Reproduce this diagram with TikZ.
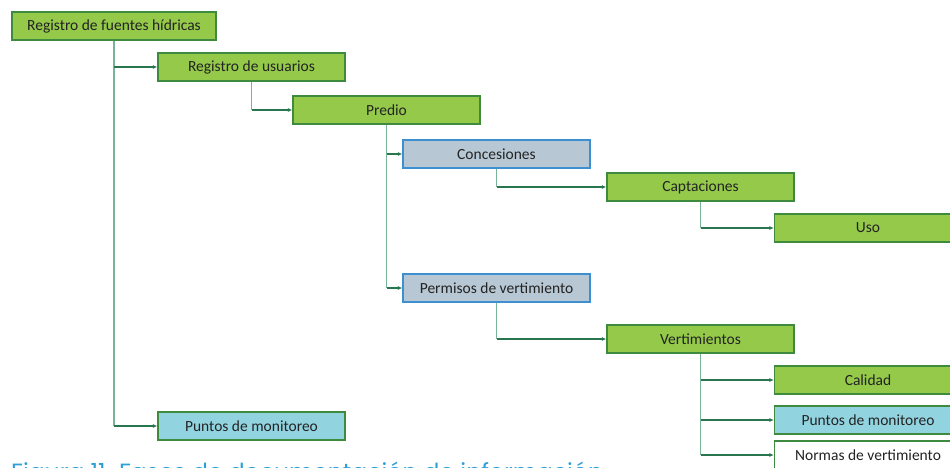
\documentclass[tikz,border=0pt]{standalone}
\usepackage{fontspec}
\setmainfont{Carlito}
\newfontfamily\capfont{Poppins}
\usetikzlibrary{arrows.meta}
\definecolor{hojaverde}{RGB}{148,201,74}
\definecolor{bordeverde}{RGB}{62,138,62}
\definecolor{grisazul}{RGB}{183,199,211}
\definecolor{bordeazul}{RGB}{60,143,209}
\definecolor{celeste}{RGB}{146,211,224}
\definecolor{lineaoscura}{RGB}{40,118,78}
\definecolor{linearama}{RGB}{120,180,150}
\definecolor{azulfig}{RGB}{44,160,214}
\definecolor{textogris}{RGB}{35,35,35}

\begin{document}
\begin{tikzpicture}
		[x=1pt,y=-1pt,
		block/.style ={rectangle, draw=bordeverde, line width=1.3pt, fill=hojaverde, inner sep=0pt, minimum width=187pt, minimum height=28pt, text=textogris, font=\fontsize{15.5}{18}\selectfont},
		gris/.style ={block, draw=bordeazul, fill=grisazul},
		pozo/.style ={block, fill=celeste},
		blanco/.style ={block, fill=white},
		rama/.style ={draw=linearama, line width=1.4pt},
		line/.style ={draw=lineaoscura, line width=1.2pt, -{Latex[length=4.5pt,width=4pt]}},
		]
		\useasboundingbox (0,0) rectangle (950,467);
		\clip (0,0) rectangle (950,467);

		\draw (114,26) node[block, minimum width=204pt] (RF) {Registro de fuentes hídricas};
		\draw (251.5,67) node[block] (RU) {Registro de usuarios};
		\draw (386.5,110) node[block] (PR) {Predio};
		\draw (496.5,154) node[gris] (CO) {Concesiones};
		\draw (700.5,187) node[block] (CA) {Captaciones};
		\draw (868,228) node[block] (US) {Uso};
		\draw (496.5,288) node[gris] (PV) {Permisos de vertimiento};
		\draw (700.5,339) node[block] (VE) {Vertimientos};
		\draw (868,380) node[block] (CL) {Calidad};
		\draw (868,420) node[pozo] (PM2) {Puntos de monitoreo};
		\draw (868,455) node[blanco] (NV) {Normas de vertimiento};
		\draw (251.5,426) node[pozo] (PM1) {Puntos de monitoreo};

		% ramas verticales
		\path[rama] (RF.south) -- (RF.south |- PM1.west);
		\path[rama] (RU.south) -- (RU.south |- PR.west);
		\path[rama] (PR.south) -- (PR.south |- PV.west);
		\path[rama] (CO.south) -- (CO.south |- CA.west);
		\path[rama] (CA.south) -- (CA.south |- US.west);
		\path[rama] (PV.south) -- (PV.south |- VE.west);
		\path[rama] (VE.south) -- (VE.south |- NV.west);

		% flechas
		\path[line] (RF.south |- RU.west) -- (RU.west);
		\path[line] (RF.south |- PM1.west) -- (PM1.west);
		\path[line] (RU.south |- PR.west) -- (PR.west);
		\path[line] (PR.south |- CO.west) -- (CO.west);
		\path[line] (PR.south |- PV.west) -- (PV.west);
		\path[line] (CO.south |- CA.west) -- (CA.west);
		\path[line] (CA.south |- US.west) -- (US.west);
		\path[line] (PV.south |- VE.west) -- (VE.west);
		\path[line] (VE.south |- CL.west) -- (CL.west);
		\path[line] (VE.south |- PM2.west) -- (PM2.west);
		\path[line] (VE.south |- NV.west) -- (NV.west);

		\node[anchor=north west, inner sep=0pt, text=azulfig, font=\capfont\fontsize{23.5}{27}\selectfont] (FIG) at (11,461.5) {Figura 11. Fases de documentación de información};
	\end{tikzpicture}
\end{document}
